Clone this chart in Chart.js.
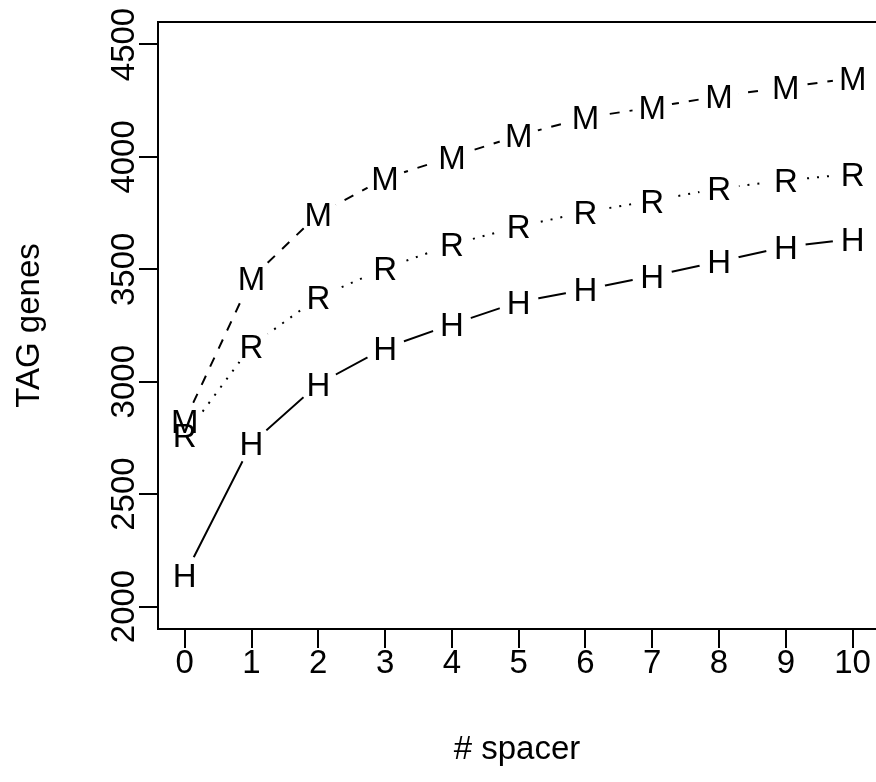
<!DOCTYPE html>
<html>
<head>
<meta charset="utf-8">
<script src="https://cdn.jsdelivr.net/npm/chart.js@4.4.1/dist/chart.umd.min.js"></script>
<style>
  html, body { margin: 0; padding: 0; background: #fff; }
  #wrap { width: 876px; height: 782px; }
</style>
</head>
<body>
<div id="wrap"><canvas id="chart" width="876" height="782"></canvas></div>
<script>
// values
const spacers = [0, 1, 2, 3, 4, 5, 6, 7, 8, 9, 10];
const seriesM = [2825, 3460, 3745, 3905, 4000, 4095, 4175, 4220, 4270, 4310, 4350];
const seriesR = [2760, 3160, 3375, 3505, 3610, 3690, 3755, 3805, 3860, 3895, 3925];
const seriesH = [2140, 2725, 2990, 3150, 3255, 3355, 3410, 3470, 3535, 3600, 3635];
const yTicks = [2000, 2500, 3000, 3500, 4000, 4500];

const FONT = '"Liberation Sans", Arial, Helvetica, sans-serif';
const FSIZE = 33;
Chart.defaults.font.family = FONT;
Chart.defaults.font.size = FSIZE;
Chart.defaults.color = '#000';

const toPoints = vals => vals.map((v, i) => ({ x: spacers[i], y: v }));

function makeSet(label, vals, dash) {
    return {
        label: label,
        letter: label,
        data: toPoints(vals),
        borderColor: '#000',
        backgroundColor: '#000',
        borderWidth: 2,
        borderDash: dash,
        borderCapStyle: 'butt',
        pointRadius: 0,
        tension: 0
    };
}

// R type="b": gap round each point, then the letter on top
const letterPoints = {
    id: 'letterPoints',
    afterDatasetsDraw(chart) {
        const ctx = chart.ctx;
        ctx.save();
        ctx.fillStyle = '#fff';
        chart.data.datasets.forEach((ds, i) => {
            chart.getDatasetMeta(i).data.forEach(pt => {
                ctx.beginPath();
                ctx.arc(pt.x, pt.y, 20, 0, Math.PI * 2);
                ctx.fill();
            });
        });
        ctx.fillStyle = '#000';
        ctx.font = FSIZE + 'px ' + FONT;
        ctx.textAlign = 'center';
        ctx.textBaseline = 'alphabetic';
        chart.data.datasets.forEach((ds, i) => {
            chart.getDatasetMeta(i).data.forEach(pt => {
                ctx.fillText(ds.letter, pt.x, pt.y + FSIZE * 0.358);
            });
        });
        ctx.restore();
    },
    afterDraw(chart) {
        const ctx = chart.ctx;
        const area = chart.chartArea;
        const ys = chart.scales.y;
        ctx.save();
        // top edge of the box
        ctx.strokeStyle = '#000';
        ctx.lineWidth = 2;
        ctx.beginPath();
        ctx.moveTo(area.left - 1, area.top);
        ctx.lineTo(area.right, area.top);
        ctx.stroke();
        // rotated y tick labels
        ctx.fillStyle = '#000';
        ctx.font = FSIZE + 'px ' + FONT;
        ctx.textAlign = 'center';
        ctx.textBaseline = 'alphabetic';
        yTicks.forEach(v => {
            ctx.save();
            ctx.translate(area.left - 24, ys.getPixelForValue(v));
            ctx.rotate(-Math.PI / 2);
            ctx.fillText(String(v), 0, 0);
            ctx.restore();
        });
        ctx.restore();
    }
};

new Chart(document.getElementById('chart').getContext('2d'), {
    type: 'line',
    data: {
        datasets: [
            makeSet('M', seriesM, [10, 10]),
            makeSet('R', seriesR, [2, 8]),
            makeSet('H', seriesH, [])
        ]
    },
    options: {
        responsive: false,
        animation: false,
        devicePixelRatio: 1,
        layout: { padding: { top: 22, right: 0, left: 0, bottom: 0 } },
        plugins: {
            legend: { display: false },
            tooltip: { enabled: false }
        },
        scales: {
            x: {
                type: 'linear',
                min: -0.4,
                max: 10.35,
                afterBuildTicks: s => { s.ticks = spacers.map(v => ({ value: v })); },
                afterFit: s => { s.height = 153; s.paddingLeft = 0; s.paddingRight = 0; },
                ticks: { padding: -1, maxRotation: 0, autoSkip: false, color: '#000', font: { size: FSIZE, lineHeight: 1 } },
                grid: { drawOnChartArea: false, drawTicks: true, tickLength: 19, color: '#000', lineWidth: 2 },
                border: { display: true, color: '#000', width: 2 },
                title: { display: true, text: '# spacer', color: '#000', padding: { top: 0, bottom: 12 } }
            },
            y: {
                type: 'linear',
                min: 1900,
                max: 4600,
                afterBuildTicks: s => { s.ticks = yTicks.map(v => ({ value: v })); },
                afterFit: s => { s.width = 158; s.paddingTop = 0; s.paddingBottom = 0; },
                ticks: { display: false },
                grid: { drawOnChartArea: false, drawTicks: true, tickLength: 19, color: '#000', lineWidth: 2 },
                border: { display: true, color: '#000', width: 2 },
                title: { display: true, text: 'TAG genes', color: '#000', padding: { top: 10, bottom: 0 } }
            }
        }
    },
    plugins: [letterPoints]
});
</script>
</body>
</html>
